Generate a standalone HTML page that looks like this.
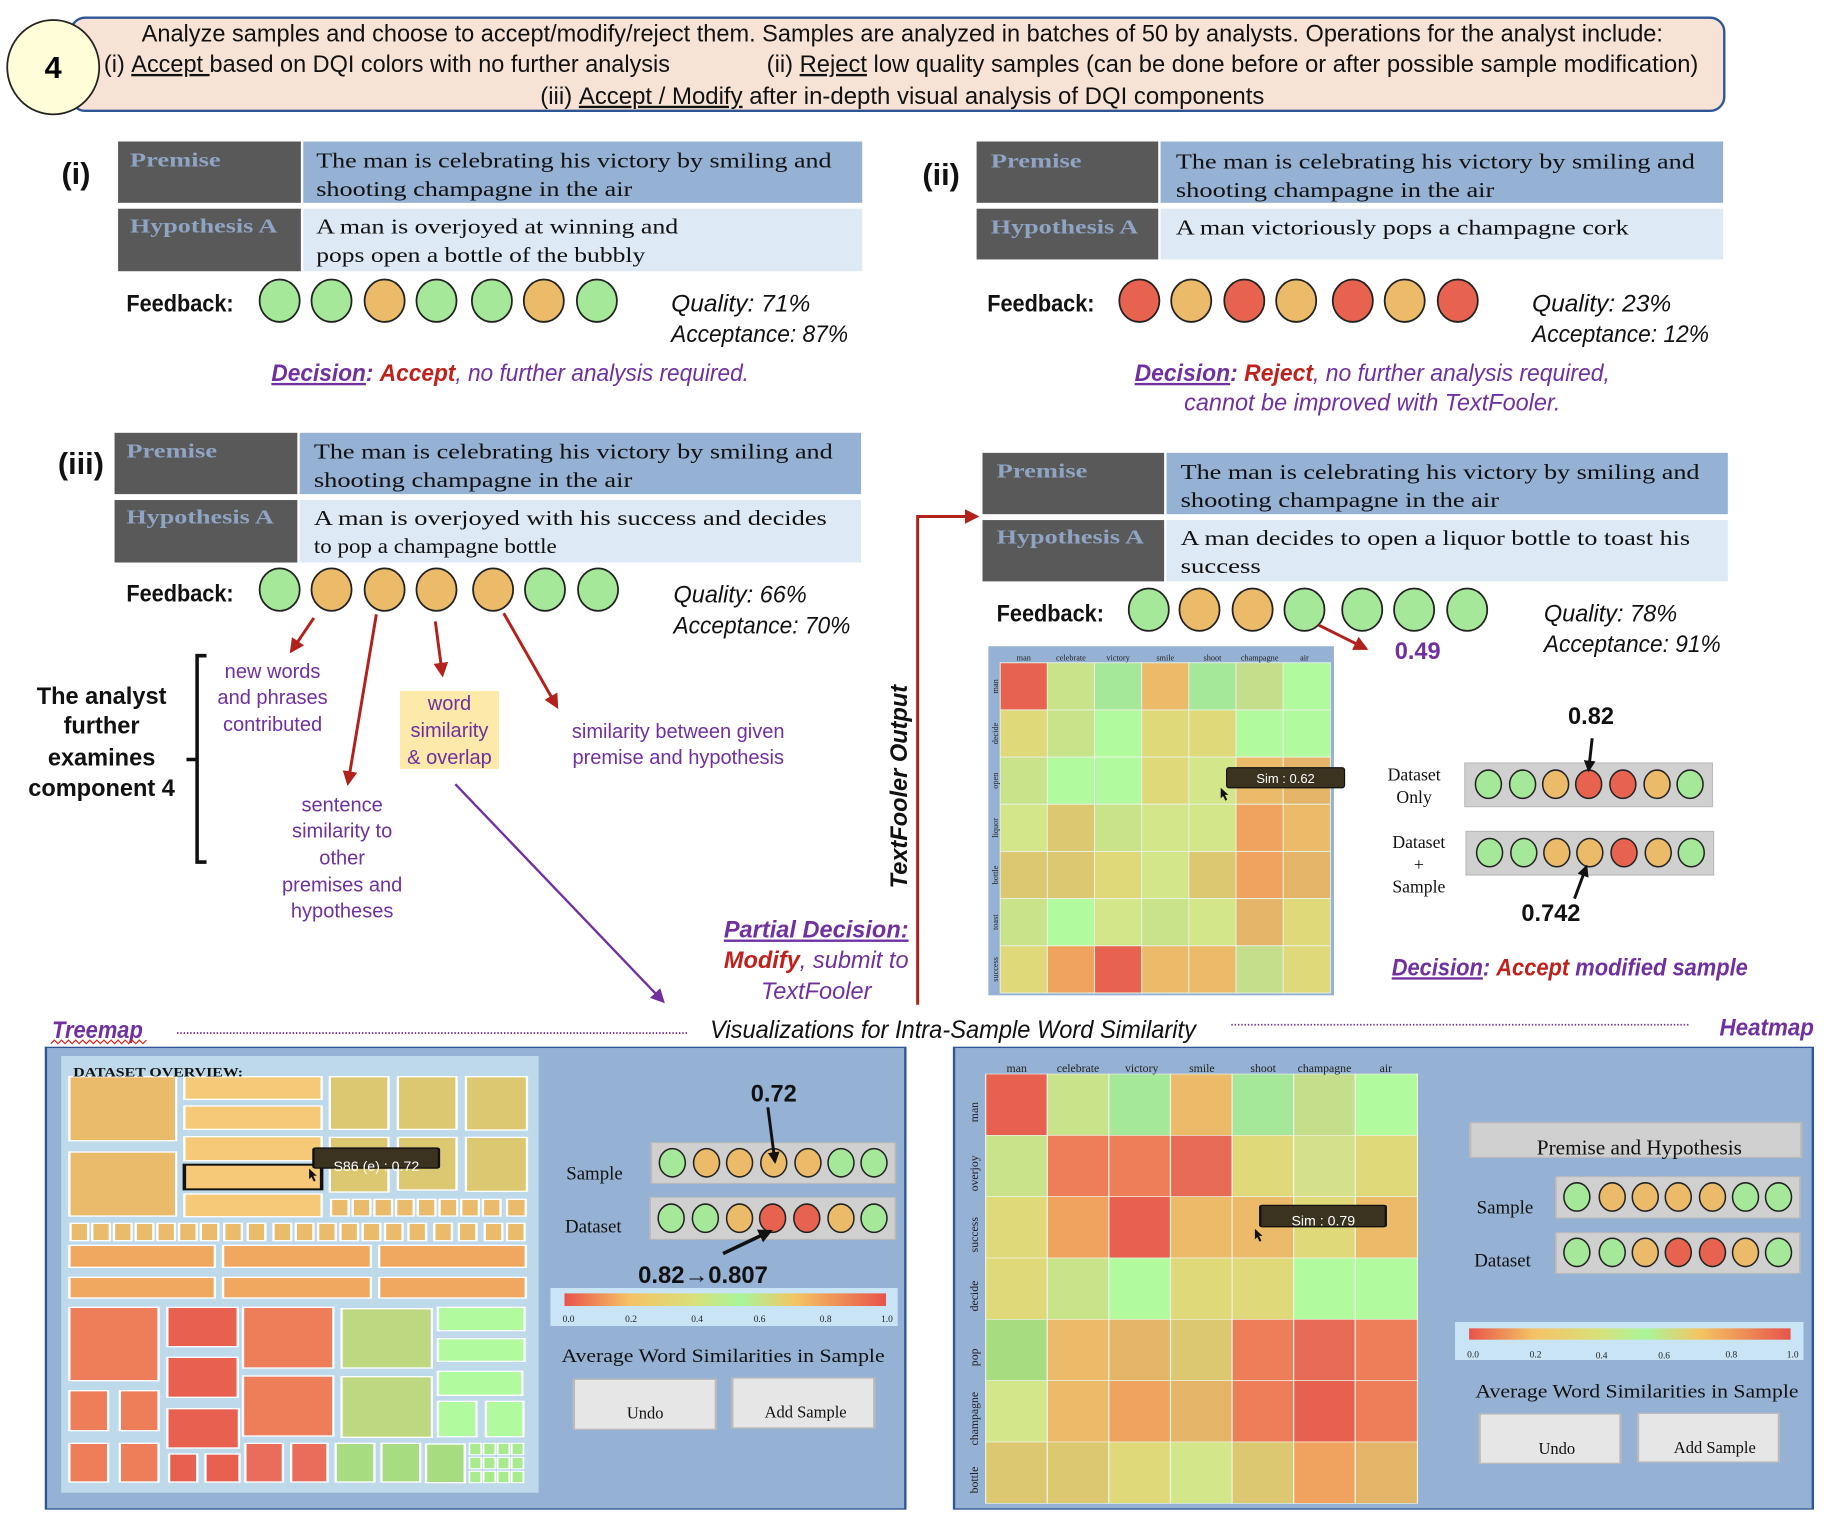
<!DOCTYPE html>
<html><head><meta charset="utf-8"><style>
html,body{margin:0;padding:0;background:#fff;}
svg{display:block;}
.sans{font-family:"Liberation Sans Narrow","Liberation Sans",sans-serif;}
.ser{font-family:"Liberation Serif",serif;}
</style></head><body>
<svg width="1840" height="1526" viewBox="0 0 1560 1294" xmlns="http://www.w3.org/2000/svg">
<defs>
<marker id="ar" viewBox="0 0 10 10" refX="8" refY="5" markerWidth="5" markerHeight="5" orient="auto"><path d="M0,0L10,5L0,10z" fill="#b2211b"/></marker>
<marker id="ap" viewBox="0 0 10 10" refX="8" refY="5" markerWidth="6" markerHeight="6" orient="auto"><path d="M0,0L10,5L0,10z" fill="#7030a0"/></marker>
<marker id="ab" viewBox="0 0 10 10" refX="8" refY="5" markerWidth="4" markerHeight="4" orient="auto"><path d="M0,0L10,5L0,10z" fill="#111"/></marker>
<linearGradient id="cb" x1="0" x2="1" y1="0" y2="0">
<stop offset="0" stop-color="#e8534a"/><stop offset="0.2" stop-color="#f5c265"/><stop offset="0.4" stop-color="#d9e07a"/><stop offset="0.55" stop-color="#a9f59a"/><stop offset="0.72" stop-color="#f4c462"/><stop offset="1" stop-color="#e8534a"/>
</linearGradient>
</defs>

<!-- Header -->
<rect x="60" y="15" width="1402" height="79" rx="12" fill="#f7e3d6" stroke="#2f5597" stroke-width="2"/>
<ellipse cx="45" cy="57" rx="39" ry="40" fill="#fffed8" stroke="#222" stroke-width="1.5"/>
<text x="45" y="66" text-anchor="middle" class="sans" font-weight="bold" font-size="26">4</text>
<g class="sans" font-size="20" fill="#111">
<text x="120" y="35" textLength="1290" lengthAdjust="spacingAndGlyphs">Analyze samples and choose to accept/modify/reject them. Samples are analyzed in batches of 50 by analysts. Operations for the analyst include:</text>
<text x="88" y="61" textLength="480" lengthAdjust="spacingAndGlyphs">(i) <tspan text-decoration="underline">Accept </tspan>based on DQI colors with no further analysis</text>
<text x="650" y="61" textLength="790" lengthAdjust="spacingAndGlyphs">(ii) <tspan text-decoration="underline">Reject</tspan> low quality samples (can be done before or after possible sample modification)</text>
<text x="458" y="88" textLength="614" lengthAdjust="spacingAndGlyphs">(iii) <tspan text-decoration="underline">Accept / Modify</tspan> after in-depth visual analysis of DQI components</text>
</g>

<!-- Panel labels -->
<g class="sans" font-weight="bold" font-size="26" fill="#111">
<text x="52" y="156">(i)</text>
<text x="782" y="157">(ii)</text>
<text x="49" y="402">(iii)</text>
</g>

<!-- Table (i) -->
<rect x="100" y="120" width="155" height="52" fill="#595959"/><rect x="257" y="120" width="474" height="52" fill="#95b1d3"/>
<rect x="100" y="177" width="155" height="53" fill="#595959"/><rect x="257" y="177" width="474" height="53" fill="#dde9f5"/>
<g class="ser" font-size="18" fill="#111">
<text x="268" y="142" textLength="437" lengthAdjust="spacingAndGlyphs">The man is celebrating his victory by smiling and</text>
<text x="268" y="166" textLength="268" lengthAdjust="spacingAndGlyphs">shooting champagne in the air</text>
<text x="268" y="198" textLength="307" lengthAdjust="spacingAndGlyphs">A man is overjoyed at winning and</text>
<text x="268" y="222" textLength="279" lengthAdjust="spacingAndGlyphs">pops open a bottle of the bubbly</text>
</g>

<!-- Table (ii) -->
<rect x="828" y="120" width="154" height="52" fill="#595959"/><rect x="984" y="120" width="477" height="52" fill="#95b1d3"/>
<rect x="828" y="177" width="154" height="43" fill="#595959"/><rect x="984" y="177" width="477" height="43" fill="#dde9f5"/>
<g class="ser" font-size="18" fill="#111">
<text x="997" y="143" textLength="440" lengthAdjust="spacingAndGlyphs">The man is celebrating his victory by smiling and</text>
<text x="997" y="167" textLength="270" lengthAdjust="spacingAndGlyphs">shooting champagne in the air</text>
<text x="997" y="199" textLength="384" lengthAdjust="spacingAndGlyphs">A man victoriously pops a champagne cork</text>
</g>

<!-- Table (iii) -->
<rect x="97" y="367" width="155" height="52" fill="#595959"/><rect x="254" y="367" width="476" height="52" fill="#95b1d3"/>
<rect x="97" y="424" width="155" height="53" fill="#595959"/><rect x="254" y="424" width="476" height="53" fill="#dde9f5"/>
<g class="ser" font-size="18" fill="#111">
<text x="266" y="389" textLength="440" lengthAdjust="spacingAndGlyphs">The man is celebrating his victory by smiling and</text>
<text x="266" y="413" textLength="270" lengthAdjust="spacingAndGlyphs">shooting champagne in the air</text>
<text x="266" y="445" textLength="435" lengthAdjust="spacingAndGlyphs">A man is overjoyed with his  success and decides</text>
<text x="266" y="469" textLength="206" lengthAdjust="spacingAndGlyphs">to pop a champagne bottle</text>
</g>

<!-- Table modified -->
<rect x="833" y="384" width="154" height="52" fill="#595959"/><rect x="989" y="384" width="476" height="52" fill="#95b1d3"/>
<rect x="833" y="441" width="154" height="52" fill="#595959"/><rect x="989" y="441" width="476" height="52" fill="#dde9f5"/>
<g class="ser" font-size="18" fill="#111">
<text x="1001" y="406" textLength="440" lengthAdjust="spacingAndGlyphs">The man is celebrating his victory by smiling and</text>
<text x="1001" y="430" textLength="270" lengthAdjust="spacingAndGlyphs">shooting champagne in the air</text>
<text x="1001" y="462" textLength="432" lengthAdjust="spacingAndGlyphs">A man decides to open a liquor bottle to toast his</text>
<text x="1001" y="486" textLength="68" lengthAdjust="spacingAndGlyphs">success</text>
</g>

<!-- Table labels (drawn after cells) -->
<g class="ser" font-weight="bold" font-size="17" fill="#8ea4c2">
<text x="110" y="141" textLength="77" lengthAdjust="spacingAndGlyphs">Premise</text>
<text x="110" y="197" textLength="125" lengthAdjust="spacingAndGlyphs">Hypothesis A</text>
<text x="840" y="142" textLength="77" lengthAdjust="spacingAndGlyphs">Premise</text>
<text x="840" y="198" textLength="125" lengthAdjust="spacingAndGlyphs">Hypothesis A</text>
<text x="107" y="388" textLength="77" lengthAdjust="spacingAndGlyphs">Premise</text>
<text x="107" y="444" textLength="125" lengthAdjust="spacingAndGlyphs">Hypothesis A</text>
<text x="845" y="405" textLength="77" lengthAdjust="spacingAndGlyphs">Premise</text>
<text x="845" y="461" textLength="125" lengthAdjust="spacingAndGlyphs">Hypothesis A</text>
</g>

<!-- Feedback labels -->
<g class="sans" font-weight="bold" font-size="20" fill="#111">
<text x="107" y="264" textLength="91" lengthAdjust="spacingAndGlyphs">Feedback:</text>
<text x="837" y="264" textLength="91" lengthAdjust="spacingAndGlyphs">Feedback:</text>
<text x="107" y="510" textLength="91" lengthAdjust="spacingAndGlyphs">Feedback:</text>
<text x="845" y="527" textLength="91" lengthAdjust="spacingAndGlyphs">Feedback:</text>
</g>

<!-- Feedback circles -->
<g stroke="#222" stroke-width="1.5">
<ellipse cx="237" cy="255" rx="17" ry="18" fill="#a6e89a"/>
<ellipse cx="281" cy="255" rx="17" ry="18" fill="#a6e89a"/>
<ellipse cx="326" cy="255" rx="17" ry="18" fill="#ebbb6a"/>
<ellipse cx="370" cy="255" rx="17" ry="18" fill="#a6e89a"/>
<ellipse cx="417" cy="255" rx="17" ry="18" fill="#a6e89a"/>
<ellipse cx="461" cy="255" rx="17" ry="18" fill="#ebbb6a"/>
<ellipse cx="506" cy="255" rx="17" ry="18" fill="#a6e89a"/>

<ellipse cx="966" cy="255" rx="17" ry="18" fill="#e8634f"/>
<ellipse cx="1010" cy="255" rx="17" ry="18" fill="#ebbb6a"/>
<ellipse cx="1055" cy="255" rx="17" ry="18" fill="#e8634f"/>
<ellipse cx="1099" cy="255" rx="17" ry="18" fill="#ebbb6a"/>
<ellipse cx="1147" cy="255" rx="17" ry="18" fill="#e8634f"/>
<ellipse cx="1191" cy="255" rx="17" ry="18" fill="#ebbb6a"/>
<ellipse cx="1236" cy="255" rx="17" ry="18" fill="#e8634f"/>

<ellipse cx="237" cy="500" rx="17" ry="18" fill="#a6e89a"/>
<ellipse cx="281" cy="500" rx="17" ry="18" fill="#ebbb6a"/>
<ellipse cx="326" cy="500" rx="17" ry="18" fill="#ebbb6a"/>
<ellipse cx="370" cy="500" rx="17" ry="18" fill="#ebbb6a"/>
<ellipse cx="418" cy="500" rx="17" ry="18" fill="#ebbb6a"/>
<ellipse cx="462" cy="500" rx="17" ry="18" fill="#a6e89a"/>
<ellipse cx="507" cy="500" rx="17" ry="18" fill="#a6e89a"/>

<ellipse cx="974" cy="517" rx="17" ry="18" fill="#a6e89a"/>
<ellipse cx="1017" cy="517" rx="17" ry="18" fill="#ebbb6a"/>
<ellipse cx="1062" cy="517" rx="17" ry="18" fill="#ebbb6a"/>
<ellipse cx="1106" cy="517" rx="17" ry="18" fill="#a6e89a"/>
<ellipse cx="1155" cy="517" rx="17" ry="18" fill="#a6e89a"/>
<ellipse cx="1199" cy="517" rx="17" ry="18" fill="#a6e89a"/>
<ellipse cx="1244" cy="517" rx="17" ry="18" fill="#a6e89a"/>
</g>

<!-- Quality / Acceptance -->
<g class="sans" font-style="italic" font-size="20" fill="#111">
<text x="569" y="264" textLength="118" lengthAdjust="spacingAndGlyphs">Quality:  71%</text>
<text x="569" y="290" textLength="150" lengthAdjust="spacingAndGlyphs">Acceptance: 87%</text>
<text x="1299" y="264" textLength="118" lengthAdjust="spacingAndGlyphs">Quality:  23%</text>
<text x="1299" y="290" textLength="150" lengthAdjust="spacingAndGlyphs">Acceptance: 12%</text>
<text x="571" y="511" textLength="113" lengthAdjust="spacingAndGlyphs">Quality: 66%</text>
<text x="571" y="537" textLength="150" lengthAdjust="spacingAndGlyphs">Acceptance: 70%</text>
<text x="1309" y="527" textLength="113" lengthAdjust="spacingAndGlyphs">Quality: 78%</text>
<text x="1309" y="553" textLength="150" lengthAdjust="spacingAndGlyphs">Acceptance: 91%</text>
</g>

<!-- Decisions -->
<g class="sans" font-style="italic" font-size="20" fill="#7030a0">
<text x="230" y="323" textLength="405" lengthAdjust="spacingAndGlyphs"><tspan font-weight="bold" text-decoration="underline">Decision</tspan><tspan font-weight="bold">: </tspan><tspan font-weight="bold" fill="#c0211d">Accept</tspan>, no further analysis required.</text>
<text x="962" y="323" textLength="403" lengthAdjust="spacingAndGlyphs"><tspan font-weight="bold" text-decoration="underline">Decision</tspan><tspan font-weight="bold">: </tspan><tspan font-weight="bold" fill="#c0211d">Reject</tspan>, no further analysis required,</text>
<text x="1004" y="348" textLength="319" lengthAdjust="spacingAndGlyphs">cannot be improved with TextFooler.</text>
<text x="1180" y="827" textLength="302" lengthAdjust="spacingAndGlyphs" font-weight="bold"><tspan text-decoration="underline">Decision</tspan>: <tspan fill="#c0211d">Accept</tspan> modified sample</text>
<text x="692" y="795" text-anchor="middle" font-weight="bold" text-decoration="underline">Partial Decision:</text>
<text x="692" y="821" text-anchor="middle"><tspan font-weight="bold" fill="#c0211d">Modify</tspan>, submit to</text>
<text x="692" y="847" text-anchor="middle">TextFooler</text>
</g>

<!-- (iii) annotations -->
<g stroke="#b2211b" stroke-width="2.5" fill="none" marker-end="url(#ar)">
<line x1="266" y1="524" x2="247" y2="552"/>
<line x1="319" y1="521" x2="295" y2="664"/>
<line x1="369" y1="527" x2="375" y2="572"/>
<line x1="427" y1="520" x2="472" y2="599"/>
</g>
<rect x="339" y="586" width="84" height="66" fill="#fde9a9"/>
<g class="sans" font-size="17" fill="#7030a0" text-anchor="middle">
<text x="231" y="575">new words</text>
<text x="231" y="597">and phrases</text>
<text x="231" y="620">contributed</text>
<text x="381" y="602">word</text>
<text x="381" y="625">similarity</text>
<text x="381" y="648">&amp; overlap</text>
<text x="575" y="626">similarity between given</text>
<text x="575" y="648">premise and hypothesis</text>
<text x="290" y="688">sentence</text>
<text x="290" y="710">similarity to</text>
<text x="290" y="733">other</text>
<text x="290" y="756">premises and</text>
<text x="290" y="778">hypotheses</text>
</g>
<path d="M175,556 L167,556 L167,731 L175,731 M167,644 L158,644" fill="none" stroke="#111" stroke-width="3"/>
<g class="sans" font-weight="bold" font-size="20" fill="#111" text-anchor="middle">
<text x="86" y="597">The analyst</text>
<text x="86" y="622">further</text>
<text x="86" y="649">examines</text>
<text x="86" y="675">component 4</text>
</g>
<line x1="386" y1="665" x2="562" y2="849" stroke="#7030a0" stroke-width="2" marker-end="url(#ap)"/>

<!-- TextFooler connector -->
<path d="M778,852 L778,438 L828,438" fill="none" stroke="#b2211b" stroke-width="2.5" marker-end="url(#ar)"/>
<text transform="translate(769,667) rotate(-90)" text-anchor="middle" class="sans" font-weight="bold" font-style="italic" font-size="20" fill="#111">TextFooler Output</text>

<!-- 0.49 arrow -->
<line x1="1118" y1="530" x2="1158" y2="550" stroke="#b2211b" stroke-width="2.5" marker-end="url(#ar)"/>
<text x="1202" y="559" text-anchor="middle" class="sans" font-weight="bold" font-size="20" fill="#7030a0">0.49</text>

<!-- small heatmap -->
<rect x="838" y="548" width="293" height="296" fill="#95b1d3"/>
<g stroke="#e8f2e0" stroke-width="0.8">
<rect x="848" y="562" width="40" height="40" fill="#e8634f"/><rect x="888" y="562" width="40" height="40" fill="#c8e38a"/><rect x="928" y="562" width="40" height="40" fill="#a6e89a"/><rect x="968" y="562" width="40" height="40" fill="#ebbb6a"/><rect x="1008" y="562" width="40" height="40" fill="#a6e89a"/><rect x="1048" y="562" width="40" height="40" fill="#c4de8c"/><rect x="1088" y="562" width="40" height="40" fill="#b2fa9e"/>
<rect x="848" y="602" width="40" height="40" fill="#e0d97a"/><rect x="888" y="602" width="40" height="40" fill="#c8e38a"/><rect x="928" y="602" width="40" height="40" fill="#b2fa9e"/><rect x="968" y="602" width="40" height="40" fill="#e0d97a"/><rect x="1008" y="602" width="40" height="40" fill="#e0d97a"/><rect x="1048" y="602" width="40" height="40" fill="#b2fa9e"/><rect x="1088" y="602" width="40" height="40" fill="#b2fa9e"/>
<rect x="848" y="642" width="40" height="40" fill="#c8e38a"/><rect x="888" y="642" width="40" height="40" fill="#b2fa9e"/><rect x="928" y="642" width="40" height="40" fill="#b2fa9e"/><rect x="968" y="642" width="40" height="40" fill="#e0d97a"/><rect x="1008" y="642" width="40" height="40" fill="#d4e68a"/><rect x="1048" y="642" width="40" height="40" fill="#ebbb6a"/><rect x="1088" y="642" width="40" height="40" fill="#e4b468"/>
<rect x="848" y="682" width="40" height="40" fill="#d4e68a"/><rect x="888" y="682" width="40" height="40" fill="#dcc870"/><rect x="928" y="682" width="40" height="40" fill="#c8e38a"/><rect x="968" y="682" width="40" height="40" fill="#d4e68a"/><rect x="1008" y="682" width="40" height="40" fill="#d4e68a"/><rect x="1048" y="682" width="40" height="40" fill="#f0a35e"/><rect x="1088" y="682" width="40" height="40" fill="#ebbb6a"/>
<rect x="848" y="722" width="40" height="40" fill="#dcc870"/><rect x="888" y="722" width="40" height="40" fill="#dcc870"/><rect x="928" y="722" width="40" height="40" fill="#e0d97a"/><rect x="968" y="722" width="40" height="40" fill="#d4e68a"/><rect x="1008" y="722" width="40" height="40" fill="#dcc870"/><rect x="1048" y="722" width="40" height="40" fill="#f0a35e"/><rect x="1088" y="722" width="40" height="40" fill="#e4b468"/>
<rect x="848" y="762" width="40" height="40" fill="#c8e38a"/><rect x="888" y="762" width="40" height="40" fill="#b2fa9e"/><rect x="928" y="762" width="40" height="40" fill="#d4e68a"/><rect x="968" y="762" width="40" height="40" fill="#c8e38a"/><rect x="1008" y="762" width="40" height="40" fill="#d4e68a"/><rect x="1048" y="762" width="40" height="40" fill="#e4b468"/><rect x="1088" y="762" width="40" height="40" fill="#e0d97a"/>
<rect x="848" y="802" width="40" height="40" fill="#e0d97a"/><rect x="888" y="802" width="40" height="40" fill="#f0a35e"/><rect x="928" y="802" width="40" height="40" fill="#e8634f"/><rect x="968" y="802" width="40" height="40" fill="#ebbb6a"/><rect x="1008" y="802" width="40" height="40" fill="#ebbb6a"/><rect x="1048" y="802" width="40" height="40" fill="#c4de8c"/><rect x="1088" y="802" width="40" height="40" fill="#e0d97a"/>
</g>
<g class="ser" font-size="7" fill="#222" text-anchor="middle">
<text x="868" y="560">man</text><text x="908" y="560">celebrate</text><text x="948" y="560">victory</text><text x="988" y="560">smile</text><text x="1028" y="560">shoot</text><text x="1068" y="560">champagne</text><text x="1106" y="560">air</text>
<text transform="translate(846,582) rotate(-90)">man</text>
<text transform="translate(846,622) rotate(-90)">decide</text>
<text transform="translate(846,662) rotate(-90)">open</text>
<text transform="translate(846,702) rotate(-90)">liquor</text>
<text transform="translate(846,742) rotate(-90)">bottle</text>
<text transform="translate(846,782) rotate(-90)">toast</text>
<text transform="translate(846,822) rotate(-90)">success</text>
</g>
<rect x="1040" y="651" width="100" height="17" rx="2" fill="#3b3320" stroke="#111"/>
<text x="1090" y="664" text-anchor="middle" class="sans" font-size="11" fill="#fff">Sim : 0.62</text>
<path d="M1035,668 l0,9 l2,-2 l2,4 l1.5,-1 l-2,-4 l3,0z" fill="#111"/>

<!-- Dataset only / + sample -->
<g class="ser" font-size="15" fill="#111" text-anchor="middle">
<text x="1199" y="662">Dataset</text><text x="1199" y="681">Only</text>
<text x="1203" y="719">Dataset</text><text x="1203" y="738">+</text><text x="1203" y="757">Sample</text>
</g>
<rect x="1242" y="647" width="210" height="37" fill="#d0d0d0" stroke="#bbb"/>
<rect x="1243" y="705" width="210" height="37" fill="#d0d0d0" stroke="#bbb"/>
<g stroke="#222" stroke-width="1.3">
<ellipse cx="1262" cy="665" rx="11" ry="12" fill="#a6e89a"/><ellipse cx="1291" cy="665" rx="11" ry="12" fill="#a6e89a"/><ellipse cx="1319" cy="665" rx="11" ry="12" fill="#ebbb6a"/><ellipse cx="1347" cy="665" rx="11" ry="12" fill="#e8634f"/><ellipse cx="1376" cy="665" rx="11" ry="12" fill="#e8634f"/><ellipse cx="1405" cy="665" rx="11" ry="12" fill="#ebbb6a"/><ellipse cx="1433" cy="665" rx="11" ry="12" fill="#a6e89a"/>
<ellipse cx="1263" cy="723" rx="11" ry="12" fill="#a6e89a"/><ellipse cx="1292" cy="723" rx="11" ry="12" fill="#a6e89a"/><ellipse cx="1320" cy="723" rx="11" ry="12" fill="#ebbb6a"/><ellipse cx="1348" cy="723" rx="11" ry="12" fill="#ebbb6a"/><ellipse cx="1377" cy="723" rx="11" ry="12" fill="#e8634f"/><ellipse cx="1406" cy="723" rx="11" ry="12" fill="#ebbb6a"/><ellipse cx="1434" cy="723" rx="11" ry="12" fill="#a6e89a"/>
</g>
<g class="sans" font-weight="bold" font-size="20" fill="#111" text-anchor="middle">
<text x="1349" y="614">0.82</text>
<text x="1315" y="781">0.742</text>
</g>
<line x1="1350" y1="626" x2="1347" y2="653" stroke="#111" stroke-width="2.5" marker-end="url(#ab)"/>
<line x1="1335" y1="762" x2="1345" y2="735" stroke="#111" stroke-width="2.5" marker-end="url(#ab)"/>

<!-- Section title -->
<text x="44" y="880" class="sans" font-weight="bold" font-style="italic" font-size="20" fill="#7030a0" textLength="77" lengthAdjust="spacingAndGlyphs">Treemap</text>
<polyline points="43,885 46,882 49,885 52,882 55,885 58,882 61,885 64,882 67,885 70,882 73,885 76,882 79,885 82,882 85,885 88,882 91,885 94,882 97,885 100,882 103,885 106,882 109,885 112,882 115,885 118,882 121,885 124,882" fill="none" stroke="#e02020" stroke-width="1"/>
<line x1="150" y1="876" x2="583" y2="876" stroke="#7030a0" stroke-width="1.5" stroke-dasharray="1.2,1.6"/>
<text x="602" y="880" class="sans" font-style="italic" font-size="21" fill="#111" textLength="412" lengthAdjust="spacingAndGlyphs">Visualizations for Intra-Sample Word Similarity</text>
<line x1="1044" y1="869" x2="1432" y2="869" stroke="#7030a0" stroke-width="1.5" stroke-dasharray="1.2,1.6"/>
<text x="1458" y="878" class="sans" font-weight="bold" font-style="italic" font-size="20" fill="#7030a0" textLength="80" lengthAdjust="spacingAndGlyphs">Heatmap</text>

<!-- Treemap panel -->
<svg x="0" y="848" width="780" height="446" viewBox="0 0 1568 1578" preserveAspectRatio="none">
<rect x="78" y="142" width="1465" height="1385" fill="#95b1d3" stroke="#2f5597" stroke-width="4"/>
<rect x="104" y="168" width="814" height="1310" fill="#bed9ea"/>
<g stroke="#fff" stroke-width="4">
<rect x="118" y="230" width="182" height="192" fill="#e9bb6b"/>
<rect x="118" y="456" width="182" height="192" fill="#e9bb6b"/>
<rect x="314" y="230" width="234" height="68" fill="#f5c977"/>
<rect x="314" y="318" width="234" height="70" fill="#f5c977"/>
<rect x="314" y="410" width="234" height="72" fill="#f5c977"/>
<rect x="314" y="582" width="234" height="68" fill="#f5c977"/>
<rect x="562" y="230" width="100" height="158" fill="#dcc870"/>
<rect x="678" y="230" width="100" height="158" fill="#dcc870"/>
<rect x="794" y="230" width="104" height="160" fill="#dcc870"/>
<rect x="562" y="412" width="100" height="164" fill="#dcc870"/>
<rect x="678" y="412" width="100" height="158" fill="#dcc870"/>
<rect x="794" y="412" width="104" height="162" fill="#dcc870"/>
<g fill="#e9bb6b">
<rect x="564" y="598" width="30" height="50"/><rect x="601" y="598" width="30" height="50"/><rect x="638" y="598" width="30" height="50"/><rect x="675" y="598" width="30" height="50"/><rect x="712" y="598" width="30" height="50"/><rect x="749" y="598" width="30" height="50"/><rect x="786" y="598" width="30" height="50"/><rect x="823" y="598" width="30" height="50"/><rect x="864" y="598" width="32" height="50"/>
<rect x="120" y="670" width="30" height="52"/><rect x="157" y="670" width="30" height="52"/><rect x="194" y="670" width="30" height="52"/><rect x="231" y="670" width="30" height="52"/><rect x="268" y="670" width="30" height="52"/><rect x="305" y="670" width="30" height="52"/><rect x="342" y="670" width="30" height="52"/><rect x="382" y="670" width="30" height="52"/><rect x="422" y="670" width="30" height="52"/><rect x="466" y="670" width="30" height="52"/><rect x="504" y="670" width="30" height="52"/><rect x="542" y="670" width="30" height="52"/><rect x="580" y="670" width="30" height="52"/><rect x="618" y="670" width="30" height="52"/><rect x="656" y="670" width="30" height="52"/><rect x="696" y="670" width="30" height="52"/><rect x="740" y="670" width="30" height="52"/><rect x="782" y="670" width="30" height="52"/><rect x="826" y="670" width="30" height="52"/><rect x="864" y="670" width="30" height="52"/>
</g>
<g fill="#f0a860">
<rect x="118" y="736" width="248" height="66"/><rect x="380" y="736" width="252" height="66"/><rect x="646" y="736" width="250" height="66"/>
<rect x="118" y="832" width="248" height="62"/><rect x="380" y="832" width="252" height="62"/><rect x="646" y="832" width="250" height="62"/>
</g>
<rect x="118" y="922" width="152" height="220" fill="#ee7d5a"/>
<rect x="285" y="922" width="120" height="118" fill="#e8604f"/>
<rect x="414" y="922" width="154" height="182" fill="#ee7d5a"/>
<rect x="582" y="926" width="154" height="178" fill="#bed881"/>
<rect x="746" y="922" width="148" height="70" fill="#b2fa9e"/>
<rect x="746" y="1016" width="148" height="68" fill="#b2fa9e"/>
<rect x="285" y="1072" width="120" height="120" fill="#e8604f"/>
<rect x="414" y="1128" width="154" height="180" fill="#ee7d5a"/>
<rect x="582" y="1130" width="154" height="182" fill="#bed881"/>
<rect x="746" y="1114" width="144" height="72" fill="#b2fa9e"/>
<rect x="118" y="1172" width="66" height="120" fill="#ee7d5a"/>
<rect x="204" y="1172" width="66" height="120" fill="#ee7d5a"/>
<rect x="285" y="1226" width="122" height="118" fill="#e8604f"/>
<rect x="746" y="1204" width="66" height="106" fill="#b2fa9e"/>
<rect x="828" y="1204" width="64" height="106" fill="#b2fa9e"/>
<rect x="118" y="1330" width="66" height="116" fill="#ee7d5a"/>
<rect x="204" y="1330" width="66" height="116" fill="#ee7d5a"/>
<rect x="288" y="1362" width="48" height="84" fill="#e8604f"/>
<rect x="350" y="1362" width="58" height="84" fill="#e8604f"/>
<rect x="418" y="1330" width="64" height="116" fill="#ea6d5c"/>
<rect x="496" y="1330" width="62" height="116" fill="#ea6d5c"/>
<rect x="572" y="1330" width="66" height="116" fill="#a8dc80"/>
<rect x="650" y="1330" width="66" height="116" fill="#a8dc80"/>
<rect x="726" y="1332" width="66" height="116" fill="#a8dc80"/>
<g fill="#a8eb8c" stroke-width="3">
<rect x="800" y="1330" width="20" height="34"/><rect x="824" y="1330" width="20" height="34"/><rect x="848" y="1330" width="20" height="34"/><rect x="872" y="1330" width="20" height="34"/>
<rect x="800" y="1372" width="20" height="34"/><rect x="824" y="1372" width="20" height="34"/><rect x="848" y="1372" width="20" height="34"/><rect x="872" y="1372" width="20" height="34"/>
<rect x="800" y="1414" width="20" height="34"/><rect x="824" y="1414" width="20" height="34"/><rect x="848" y="1414" width="20" height="34"/><rect x="872" y="1414" width="20" height="34"/>
</g>
</g>
<rect x="314" y="494" width="234" height="74" fill="#f5c977" stroke="#111" stroke-width="6"/>
<rect x="534" y="444" width="214" height="60" rx="4" fill="#3b3320" stroke="#111" stroke-width="4"/>
<rect x="1110" y="428" width="416" height="122" fill="#d0d0d0" stroke="#bbb" stroke-width="3"/>
<rect x="1108" y="592" width="418" height="126" fill="#d0d0d0" stroke="#bbb" stroke-width="3"/>
<rect x="938" y="864" width="592" height="114" fill="#c8e4f5"/>
<rect x="962" y="880" width="548" height="38" fill="url(#cb)"/>
<rect x="978" y="1138" width="242" height="150" fill="#e6e6e6" stroke="#bbb" stroke-width="4"/>
<rect x="1248" y="1134" width="242" height="150" fill="#e6e6e6" stroke="#bbb" stroke-width="4"/>
</svg>
<text x="62" y="913" class="ser" font-weight="bold" font-size="10.5" fill="#111" textLength="144" lengthAdjust="spacingAndGlyphs">DATASET OVERVIEW:</text>
<text x="319" y="993" text-anchor="middle" class="sans" font-size="12" fill="#fff">S86 (e) : 0.72</text>
<path d="M262,991 l0,9 l2,-2 l2,4 l1.5,-1 l-2,-4 l3,0z" fill="#111"/>
<g class="ser" font-size="16" fill="#111">
<text x="480" y="1000">Sample</text>
<text x="479" y="1045">Dataset</text>
</g>
<g stroke="#222" stroke-width="1.3">
<ellipse cx="570" cy="986" rx="11" ry="12" fill="#a6e89a"/><ellipse cx="599" cy="986" rx="11" ry="12" fill="#ebbb6a"/><ellipse cx="627" cy="986" rx="11" ry="12" fill="#ebbb6a"/><ellipse cx="656" cy="986" rx="11" ry="12" fill="#ebbb6a"/><ellipse cx="685" cy="986" rx="11" ry="12" fill="#ebbb6a"/><ellipse cx="713" cy="986" rx="11" ry="12" fill="#a6e89a"/><ellipse cx="741" cy="986" rx="11" ry="12" fill="#a6e89a"/>
<ellipse cx="569" cy="1033" rx="11" ry="12" fill="#a6e89a"/><ellipse cx="598" cy="1033" rx="11" ry="12" fill="#a6e89a"/><ellipse cx="627" cy="1033" rx="11" ry="12" fill="#ebbb6a"/><ellipse cx="655" cy="1033" rx="11" ry="12" fill="#e8634f"/><ellipse cx="684" cy="1033" rx="11" ry="12" fill="#e8634f"/><ellipse cx="713" cy="1033" rx="11" ry="12" fill="#ebbb6a"/><ellipse cx="741" cy="1033" rx="11" ry="12" fill="#a6e89a"/>
</g>
<g class="sans" font-weight="bold" font-size="20" fill="#111">
<text x="656" y="934" text-anchor="middle">0.72</text>
<text x="541" y="1088" textLength="110" lengthAdjust="spacingAndGlyphs">0.82→0.807</text>
</g>
<line x1="651" y1="939" x2="657" y2="985" stroke="#111" stroke-width="2.5" marker-end="url(#ab)"/>
<line x1="613" y1="1063" x2="653" y2="1044" stroke="#111" stroke-width="3" marker-end="url(#ab)"/>
<g class="ser" font-size="8" fill="#222" text-anchor="middle">
<text x="482" y="1121">0.0</text><text x="535" y="1121">0.2</text><text x="591" y="1121">0.4</text><text x="644" y="1121">0.6</text><text x="700" y="1121">0.8</text><text x="752" y="1121">1.0</text>
</g>
<text x="613" y="1155" text-anchor="middle" class="ser" font-size="16" fill="#111" textLength="274" lengthAdjust="spacingAndGlyphs">Average Word Similarities in Sample</text>
<text x="547" y="1203" text-anchor="middle" class="ser" font-size="14" fill="#111">Undo</text>
<text x="683" y="1202" text-anchor="middle" class="ser" font-size="14" fill="#111">Add Sample</text>

<!-- Heatmap panel -->
<svg x="780" y="848" width="780" height="446" viewBox="0 0 1568 1578" preserveAspectRatio="none">
<rect x="58" y="142" width="1464" height="1385" fill="#95b1d3" stroke="#2f5597" stroke-width="4"/>
<g stroke="#eef4e4" stroke-width="2">
<rect x="112" y="222" width="105" height="184" fill="#e8604f"/><rect x="217" y="222" width="105" height="184" fill="#c8e38a"/><rect x="322" y="222" width="105" height="184" fill="#a6e89a"/><rect x="427" y="222" width="105" height="184" fill="#ebbb6a"/><rect x="532" y="222" width="105" height="184" fill="#a6e89a"/><rect x="637" y="222" width="105" height="184" fill="#c4de8c"/><rect x="742" y="222" width="106" height="184" fill="#b2fa9e"/>
<rect x="112" y="406" width="105" height="184" fill="#c8e38a"/><rect x="217" y="406" width="105" height="184" fill="#ee7d5a"/><rect x="322" y="406" width="105" height="184" fill="#ee7d5a"/><rect x="427" y="406" width="105" height="184" fill="#e66a55"/><rect x="532" y="406" width="105" height="184" fill="#e0d97a"/><rect x="637" y="406" width="105" height="184" fill="#d4e08a"/><rect x="742" y="406" width="106" height="184" fill="#e0d97a"/>
<rect x="112" y="590" width="105" height="184" fill="#e0d97a"/><rect x="217" y="590" width="105" height="184" fill="#f0a35e"/><rect x="322" y="590" width="105" height="184" fill="#e8604f"/><rect x="427" y="590" width="105" height="184" fill="#ebbb6a"/><rect x="532" y="590" width="105" height="184" fill="#ebbb6a"/><rect x="637" y="590" width="105" height="184" fill="#e0d97a"/><rect x="742" y="590" width="106" height="184" fill="#ebbb6a"/>
<rect x="112" y="774" width="105" height="184" fill="#e0d97a"/><rect x="217" y="774" width="105" height="184" fill="#c8e38a"/><rect x="322" y="774" width="105" height="184" fill="#b2fa9e"/><rect x="427" y="774" width="105" height="184" fill="#e0d97a"/><rect x="532" y="774" width="105" height="184" fill="#e0d97a"/><rect x="637" y="774" width="105" height="184" fill="#b2fa9e"/><rect x="742" y="774" width="106" height="184" fill="#b2fa9e"/>
<rect x="112" y="958" width="105" height="184" fill="#a8dc80"/><rect x="217" y="958" width="105" height="184" fill="#ebbb6a"/><rect x="322" y="958" width="105" height="184" fill="#e4b468"/><rect x="427" y="958" width="105" height="184" fill="#dcc870"/><rect x="532" y="958" width="105" height="184" fill="#ee7d5a"/><rect x="637" y="958" width="105" height="184" fill="#e66a55"/><rect x="742" y="958" width="106" height="184" fill="#ee7d5a"/>
<rect x="112" y="1142" width="105" height="184" fill="#d4e68a"/><rect x="217" y="1142" width="105" height="184" fill="#ebbb6a"/><rect x="322" y="1142" width="105" height="184" fill="#f0a35e"/><rect x="427" y="1142" width="105" height="184" fill="#e4b468"/><rect x="532" y="1142" width="105" height="184" fill="#ee7d5a"/><rect x="637" y="1142" width="105" height="184" fill="#e8604f"/><rect x="742" y="1142" width="106" height="184" fill="#ee7d5a"/>
<rect x="112" y="1326" width="105" height="184" fill="#dcc870"/><rect x="217" y="1326" width="105" height="184" fill="#dcc870"/><rect x="322" y="1326" width="105" height="184" fill="#e0d97a"/><rect x="427" y="1326" width="105" height="184" fill="#d4e68a"/><rect x="532" y="1326" width="105" height="184" fill="#dcc870"/><rect x="637" y="1326" width="105" height="184" fill="#f0a35e"/><rect x="742" y="1326" width="106" height="184" fill="#e4b468"/>
</g>
<rect x="580" y="616" width="214" height="64" rx="4" fill="#3b3320" stroke="#111" stroke-width="4"/>
<rect x="938" y="368" width="564" height="104" fill="#d0d0d0" stroke="#bbb" stroke-width="4"/>
<rect x="1084" y="530" width="416" height="124" fill="#d0d0d0" stroke="#bbb" stroke-width="3"/>
<rect x="1084" y="698" width="416" height="122" fill="#d0d0d0" stroke="#bbb" stroke-width="3"/>
<rect x="912" y="966" width="594" height="114" fill="#c8e4f5"/>
<rect x="936" y="985" width="548" height="34" fill="url(#cb)"/>
<rect x="954" y="1242" width="240" height="148" fill="#e6e6e6" stroke="#bbb" stroke-width="4"/>
<rect x="1224" y="1240" width="240" height="146" fill="#e6e6e6" stroke="#bbb" stroke-width="4"/>
</svg>
<g class="ser" font-size="10" fill="#222" text-anchor="middle">
<text x="862" y="909">man</text><text x="914" y="909">celebrate</text><text x="968" y="909">victory</text><text x="1019" y="909">smile</text><text x="1071" y="909">shoot</text><text x="1123" y="909">champagne</text><text x="1175" y="909">air</text>
<text transform="translate(829,943) rotate(-90)">man</text>
<text transform="translate(829,995) rotate(-90)">overjoy</text>
<text transform="translate(829,1047) rotate(-90)">success</text>
<text transform="translate(829,1099) rotate(-90)">decide</text>
<text transform="translate(829,1151) rotate(-90)">pop</text>
<text transform="translate(829,1203) rotate(-90)">champagne</text>
<text transform="translate(829,1255) rotate(-90)">bottle</text>
</g>
<text x="1122" y="1039" text-anchor="middle" class="sans" font-size="12" fill="#fff">Sim : 0.79</text>
<path d="M1064,1042 l0,9 l2,-2 l2,4 l1.5,-1 l-2,-4 l3,0z" fill="#111"/>
<text x="1390" y="979" text-anchor="middle" class="ser" font-size="18" fill="#111">Premise and Hypothesis</text>
<g class="ser" font-size="16" fill="#111">
<text x="1252" y="1029">Sample</text>
<text x="1250" y="1074">Dataset</text>
</g>
<g stroke="#222" stroke-width="1.3">
<ellipse cx="1337" cy="1015" rx="11" ry="12" fill="#a6e89a"/><ellipse cx="1367" cy="1015" rx="11" ry="12" fill="#ebbb6a"/><ellipse cx="1395" cy="1015" rx="11" ry="12" fill="#ebbb6a"/><ellipse cx="1423" cy="1015" rx="11" ry="12" fill="#ebbb6a"/><ellipse cx="1452" cy="1015" rx="11" ry="12" fill="#ebbb6a"/><ellipse cx="1480" cy="1015" rx="11" ry="12" fill="#a6e89a"/><ellipse cx="1508" cy="1015" rx="11" ry="12" fill="#a6e89a"/>
<ellipse cx="1337" cy="1062" rx="11" ry="12" fill="#a6e89a"/><ellipse cx="1367" cy="1062" rx="11" ry="12" fill="#a6e89a"/><ellipse cx="1395" cy="1062" rx="11" ry="12" fill="#ebbb6a"/><ellipse cx="1423" cy="1062" rx="11" ry="12" fill="#e8634f"/><ellipse cx="1452" cy="1062" rx="11" ry="12" fill="#e8634f"/><ellipse cx="1480" cy="1062" rx="11" ry="12" fill="#ebbb6a"/><ellipse cx="1508" cy="1062" rx="11" ry="12" fill="#a6e89a"/>
</g>
<g class="ser" font-size="8" fill="#222" text-anchor="middle">
<text x="1249" y="1151">0.0</text><text x="1302" y="1151">0.2</text><text x="1358" y="1152">0.4</text><text x="1411" y="1152">0.6</text><text x="1468" y="1151">0.8</text><text x="1520" y="1151">1.0</text>
</g>
<text x="1388" y="1185" text-anchor="middle" class="ser" font-size="16" fill="#111" textLength="274" lengthAdjust="spacingAndGlyphs">Average Word Similarities in Sample</text>
<text x="1320" y="1233" text-anchor="middle" class="ser" font-size="14" fill="#111">Undo</text>
<text x="1454" y="1232" text-anchor="middle" class="ser" font-size="14" fill="#111">Add Sample</text>
</svg>
</body></html>
